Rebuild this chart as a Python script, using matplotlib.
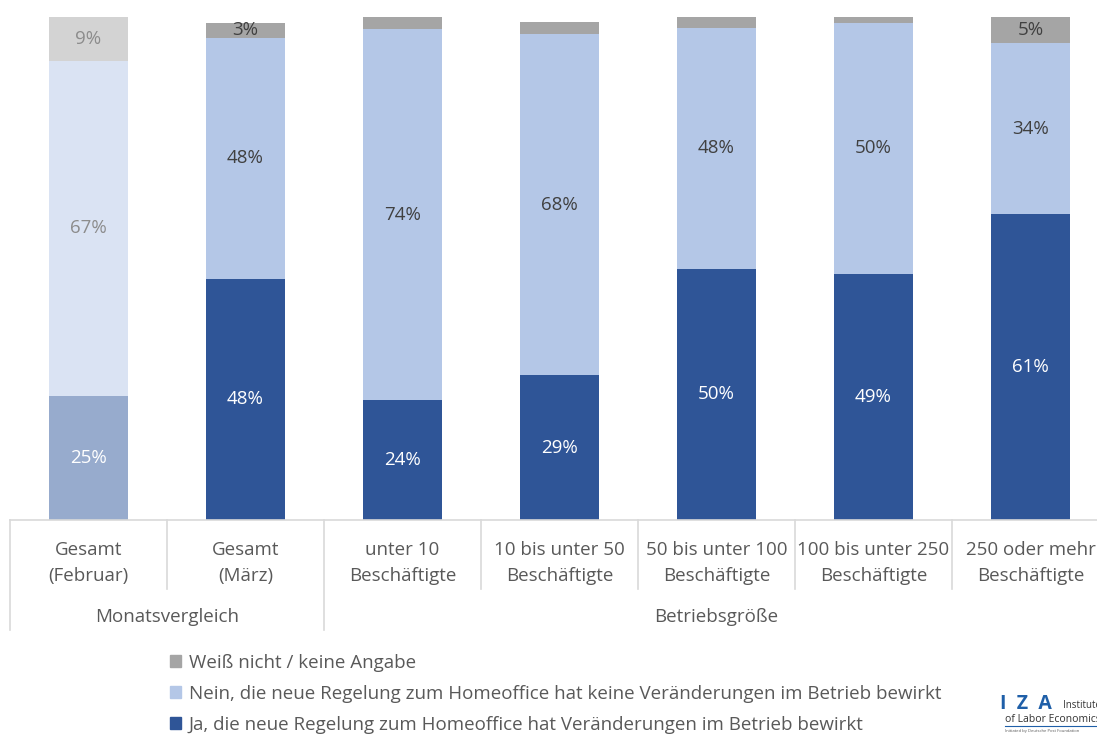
import matplotlib
matplotlib.use("Agg")
import matplotlib.pyplot as plt
from matplotlib.patches import Patch
from matplotlib.lines import Line2D

plt.rcParams['font.family'] = ['Open Sans', 'DejaVu Sans']

categories = ["Gesamt\n(Februar)", "Gesamt\n(März)", "unter 10\nBeschäftigte",
              "10 bis unter 50\nBeschäftigte", "50 bis unter 100\nBeschäftigte",
              "100 bis unter 250\nBeschäftigte", "250 oder mehr\nBeschäftigte"]
groups = ["Monatsvergleich", "Betriebsgröße"]
group_sizes = [2, 5]

ja = [24.9, 48.4, 24.1, 29.1, 50.4, 49.4, 61.4]
nein = [67.3, 48.4, 74.4, 68.4, 48.4, 50.4, 34.4]
weiss = [8.8, 3.0, 2.5, 2.5, 2.2, 1.2, 5.2]

series_names = ["Weiß nicht / keine Angabe",
                "Nein, die neue Regelung zum Homeoffice hat keine Veränderungen im Betrieb bewirkt",
                "Ja, die neue Regelung zum Homeoffice hat Veränderungen im Betrieb bewirkt"]

c_ja, c_nein, c_weiss = "#2f5597", "#b4c7e7", "#a5a5a5"
c_ja_l, c_nein_l, c_weiss_l = "#97abcd", "#dae3f3", "#d3d3d3"
txt = "#595959"

W, H = 1097, 734
fig = plt.figure(figsize=(W / 100, H / 100), dpi=100)
ax = fig.add_axes([10 / W, (H - 520) / H, 1099 / W, 503 / H])
ax.set_xlim(-0.5, 6.5)
ax.set_ylim(0, 101)
ax.axis("off")

x = list(range(len(categories)))
bw = 0.5
fs = 13.5
for i in x:
    first = (i == 0)
    cj = c_ja_l if first else c_ja
    cn = c_nein_l if first else c_nein
    cw = c_weiss_l if first else c_weiss
    ax.bar(i, ja[i], bw, color=cj, linewidth=0)
    ax.bar(i, nein[i], bw, bottom=ja[i], color=cn, linewidth=0)
    ax.bar(i, weiss[i], bw, bottom=ja[i] + nein[i], color=cw, linewidth=0)
    lab_j = "white"
    lab_n = "#8c8c8c" if first else "#404040"
    ax.text(i, ja[i] / 2, f"{ja[i]:.0f}%", ha="center", va="center", color=lab_j, fontsize=fs)
    ax.text(i, ja[i] + nein[i] / 2, f"{nein[i]:.0f}%", ha="center", va="center", color=lab_n, fontsize=fs)
    if weiss[i] >= 3:
        ax.text(i, ja[i] + nein[i] + weiss[i] / 2, f"{weiss[i]:.0f}%", ha="center", va="center",
                color=lab_n, fontsize=fs)


def px2fig(px, py):
    return px / W, (H - py) / H


lc = "#d9d9d9"
x0 = px2fig(10, 520)[0]
yb = px2fig(0, 520)[1]
fig.add_artist(Line2D([x0, 1.01], [yb, yb], color=lc, lw=1.2))


def data_x_to_fig(xd):
    return fig.transFigure.inverted().transform(ax.transData.transform((xd, 0)))[0]


y_row1 = px2fig(0, 589)[1]
y_row2 = px2fig(0, 630)[1]
boundaries = [b - 0.5 for b in range(len(categories) + 1)]
group_edges = [-0.5]
acc = -0.5
for s in group_sizes:
    acc += s
    group_edges.append(acc)
for b in boundaries:
    fx = data_x_to_fig(b)
    yend = y_row2 if b in group_edges else y_row1
    fig.add_artist(Line2D([fx, fx], [yb, yend], color=lc, lw=1.2))

for i, c in enumerate(categories):
    fx = data_x_to_fig(i)
    fig.text(fx, px2fig(0, 563)[1], c, ha="center", va="center", color=txt, fontsize=fs,
             linespacing=1.55)

start = -0.5
for g, s in zip(groups, group_sizes):
    mid = start + s / 2
    fig.text(data_x_to_fig(mid), px2fig(0, 617)[1], g, ha="center", va="center", color=txt, fontsize=fs)
    start += s

handles = [Patch(color=c_weiss), Patch(color=c_nein), Patch(color=c_ja)]
leg = fig.legend(handles, series_names, loc="upper left", bbox_to_anchor=(170 / W, 1 - 654 / H),
                 frameon=False, fontsize=fs, handlelength=0.6, handleheight=0.6,
                 handletextpad=0.4, labelspacing=0.68, borderaxespad=0, borderpad=0)
for t in leg.get_texts():
    t.set_color(txt)

fig.text(1000 / W, 1 - 704 / H, "I  Z  A", color="#1f5fa8", fontsize=14, fontweight="bold",
         ha="left", va="center")
fig.text(1063 / W, 1 - 706 / H, "Institute", color="#333333", fontsize=7, ha="left", va="center")
fig.text(1005 / W, 1 - 719 / H, "of Labor Economics", color="#333333", fontsize=7.5, ha="left", va="center")
fig.add_artist(Line2D([1005 / W, 1.0], [1 - 726 / H, 1 - 726 / H], color="#1f5fa8", lw=0.8))
fig.text(1005 / W, 1 - 731 / H, "Initiated by Deutsche Post Foundation", color="#555555", fontsize=3,
         ha="left", va="center")

fig.savefig("out.png", dpi=100)
